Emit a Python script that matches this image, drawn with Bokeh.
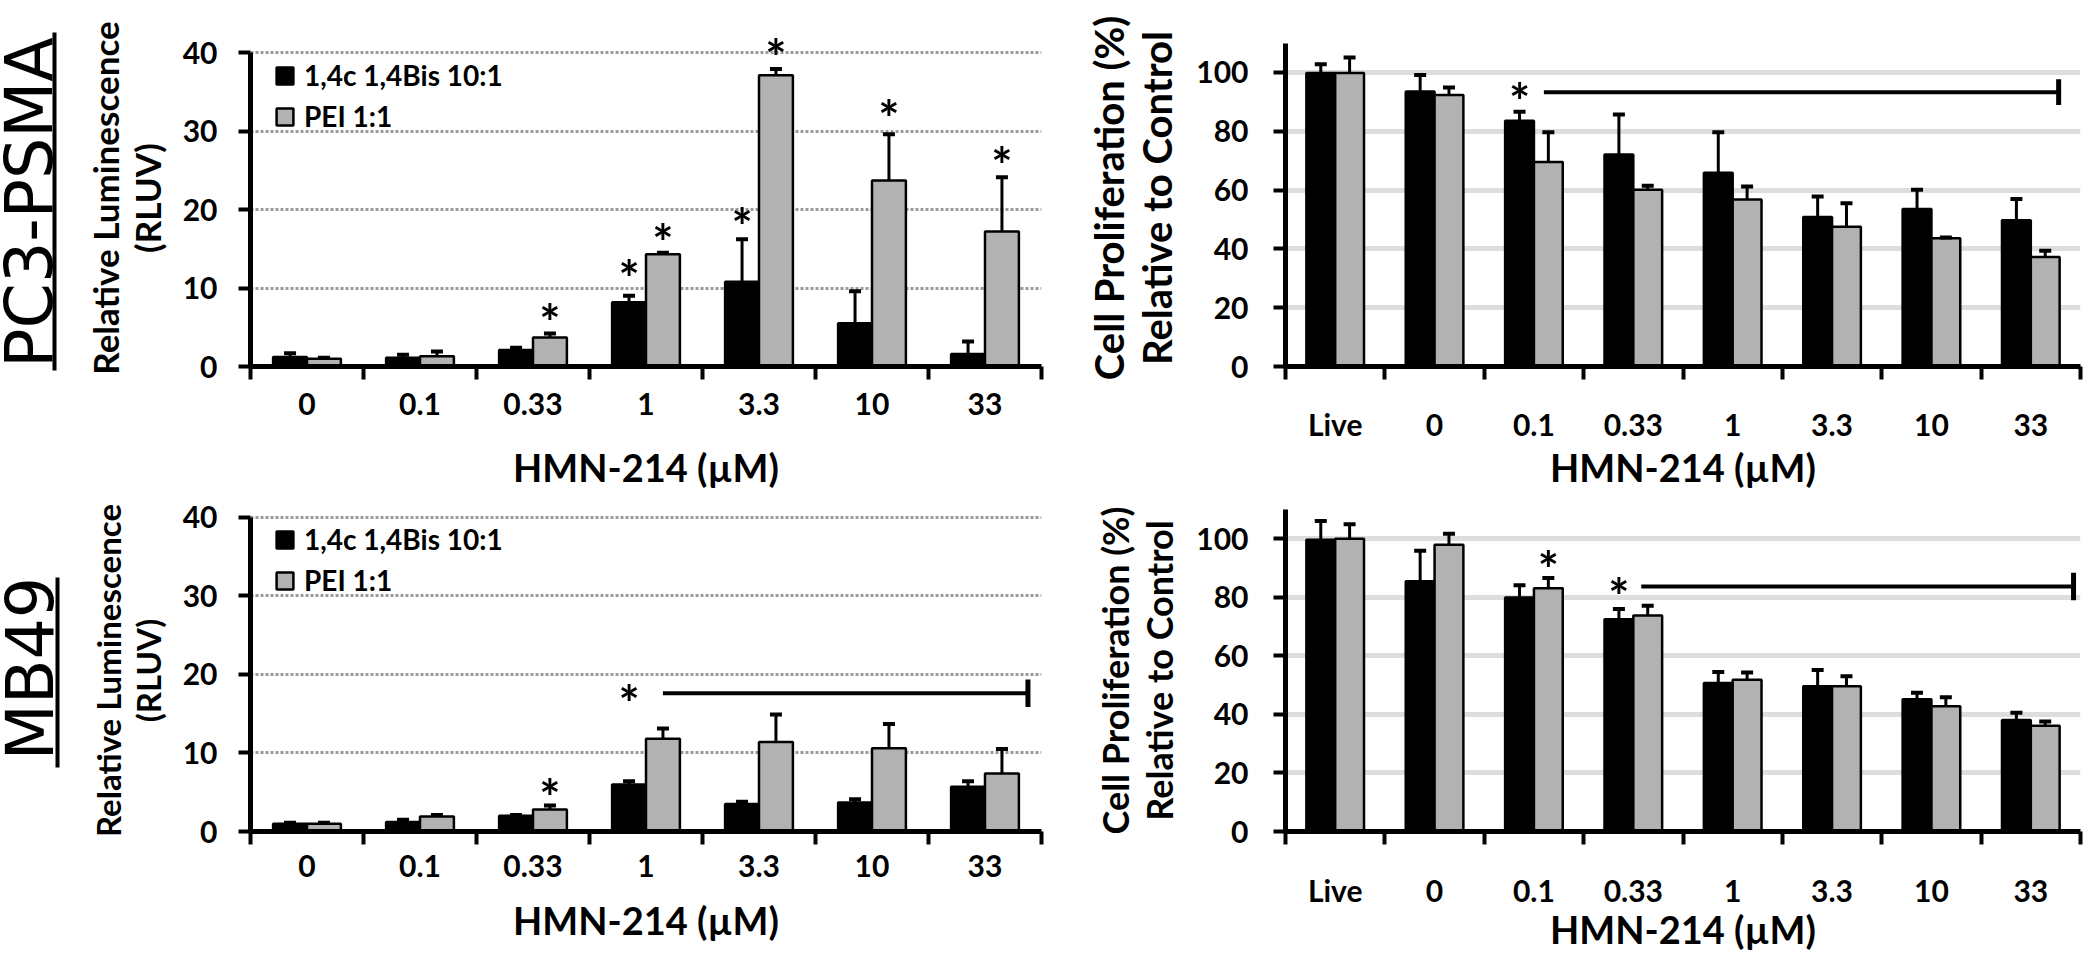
import math
from bokeh.plotting import figure
from bokeh.models import (Range1d, FixedTicker, ColumnDataSource, Whisker, TeeHead,
                          Legend, LegendItem, LabelSet, Label)
from bokeh.layouts import row, column
from bokeh.embed import file_html
from bokeh.resources import INLINE
from bokeh.core.properties import value

# ---------------- data ----------------
lum_cats = ["0", "0.1", "0.33", "1", "3.3", "10", "33"]
prol_cats = ["Live", "0", "0.1", "0.33", "1", "3.3", "10", "33"]
series_names = ["1,4c 1,4Bis 10:1", "PEI 1:1"]
x_title = "HMN-214 (µM)"
lum_title = "Relative Luminescence\n(RLUV)"
prol_title = "Cell Proliferation (%)\nRelative to Control"
row_titles = ["PC3-PSMA", "MB49"]

# PC3-PSMA luminescence
pc3_lum_black = [1.2, 1.1, 2.1, 8.2, 10.8, 5.5, 1.6]
pc3_lum_black_err = [0.5, 0.4, 0.3, 0.8, 5.4, 4.1, 1.6]
pc3_lum_gray = [1.0, 1.3, 3.7, 14.3, 37.1, 23.7, 17.2]
pc3_lum_gray_err = [0.1, 0.6, 0.5, 0.2, 0.8, 5.9, 6.9]
pc3_lum_star_cat = ["0.33", "1", "1", "3.3", "3.3", "10", "33"]
pc3_lum_star_series = [1, 0, 1, 0, 1, 1, 1]
pc3_lum_star_y = [6.85, 12.4, 17.0, 19.1, 40.6, 32.8, 26.8]

# PC3-PSMA proliferation
pc3_prol_black = [99.8, 93.5, 83.6, 72.1, 65.9, 50.8, 53.6, 49.7]
pc3_prol_black_err = [3.0, 5.6, 3.0, 13.6, 13.8, 7.0, 6.5, 7.3]
pc3_prol_gray = [99.8, 92.3, 69.5, 60.1, 56.8, 47.5, 43.6, 37.2]
pc3_prol_gray_err = [5.3, 2.6, 10.2, 1.4, 4.4, 8.0, 0.3, 2.2]
pc3_prol_star_cat = ["0.1"]
pc3_prol_star_series = [0]
pc3_prol_star_y = [93.3]
pc3_prol_bracket = dict(x0=[2.60], x1=[7.78], y=[93.3], half=[4.4])

# MB49 luminescence
mb_lum_black = [1.0, 1.2, 2.0, 6.0, 3.5, 3.7, 5.7]
mb_lum_black_err = [0.1, 0.3, 0.1, 0.4, 0.3, 0.4, 0.7]
mb_lum_gray = [1.0, 1.9, 2.8, 11.8, 11.4, 10.6, 7.4]
mb_lum_gray_err = [0.1, 0.2, 0.5, 1.3, 3.5, 3.1, 3.1]
mb_lum_star_cat = ["0.33", "1"]
mb_lum_star_series = [1, 0]
mb_lum_star_y = [5.6, 17.5]
mb_lum_bracket = dict(x0=[3.65], x1=[6.88], y=[17.6], half=[1.75])

# MB49 proliferation
mb_prol_black = [99.7, 85.5, 79.9, 72.5, 50.7, 49.6, 45.2, 38.1]
mb_prol_black_err = [6.4, 10.4, 4.2, 3.5, 3.8, 5.6, 2.2, 2.5]
mb_prol_gray = [100.0, 98.0, 83.1, 73.8, 51.8, 49.6, 42.8, 36.1]
mb_prol_gray_err = [5.0, 3.7, 3.5, 3.3, 2.5, 3.4, 3.1, 1.5]
mb_prol_star_cat = ["0.1", "0.33"]
mb_prol_star_series = [1, 0]
mb_prol_star_y = [92.6, 83.6]
mb_prol_bracket = dict(x0=[3.58], x1=[7.93], y=[83.7], half=[4.7])

FONT = "Lato"
BAR_COLORS = ["black", "#b2b2b2"]


def make_panel(cats, blk, blk_err, gry, gry_err, star_cat, star_series, star_y,
               bracket, yrange, ybound, yticks, gridticks, grid_dotted, ylabel, ylabel_size,
               width, height, mbl, mbr, mbt, mbb, bar_w, ytick_standoff,
               ylabel_standoff, xtick_standoff, xlabel_standoff, legend_vy=None):
    n = len(cats)
    p = figure(width=width, height=height, output_backend="svg", toolbar_location=None,
               x_range=Range1d(0, n), y_range=Range1d(*yrange),
               min_border_left=mbl, min_border_right=mbr, min_border_top=mbt,
               min_border_bottom=mbb)
    p.outline_line_color = None
    p.background_fill_color = "white"
    p.xgrid.visible = False
    p.ygrid.ticker = FixedTicker(ticks=gridticks)
    if grid_dotted:
        p.ygrid.grid_line_color = "#9a9a9a"
        p.ygrid.grid_line_width = 3
        p.ygrid.grid_line_dash = "3 2"
    else:
        p.ygrid.grid_line_color = "#dddddd"
        p.ygrid.grid_line_width = 5

    offs = [-bar_w / 2, bar_w / 2]
    renderers = []
    for k, (vals, errs) in enumerate([(blk, blk_err), (gry, gry_err)]):
        src = ColumnDataSource(dict(
            x=[i + 0.5 + offs[k] for i in range(n)],
            top=vals,
            upper=[v + e for v, e in zip(vals, errs)],
        ))
        r = p.vbar(x="x", top="top", bottom=0, width=bar_w, source=src,
                   fill_color=BAR_COLORS[k], line_color="black", line_width=2.5)
        renderers.append(r)
        w = Whisker(base="x", lower="top", upper="upper", source=src, dimension="height",
                    line_color="black", line_width=3, lower_head=None,
                    upper_head=TeeHead(size=12, line_width=4, line_color="black"),
                    level="overlay")
        p.add_layout(w)

    # significance asterisks
    ssrc = ColumnDataSource(dict(
        x=[cats.index(c) + 0.5 + offs[s] for c, s in zip(star_cat, star_series)],
        y=star_y,
        t=["*"] * len(star_y),
    ))
    stars = LabelSet(x="x", y="y", text="t", source=ssrc, text_font=value(FONT),
                     text_font_style="bold", text_font_size="50px", text_align="center",
                     text_baseline="middle", y_offset=-9, text_color="black")
    p.add_layout(stars)

    if bracket is not None:
        bsrc = ColumnDataSource(dict(
            x0=bracket["x0"], x1=bracket["x1"], y=bracket["y"],
            ylo=[y - h for y, h in zip(bracket["y"], bracket["half"])],
            yhi=[y + h for y, h in zip(bracket["y"], bracket["half"])],
        ))
        p.segment(x0="x0", y0="y", x1="x1", y1="y", source=bsrc, line_color="black",
                  line_width=4)
        p.segment(x0="x1", y0="ylo", x1="x1", y1="yhi", source=bsrc, line_color="black",
                  line_width=5)

    # x axis: labels at category centres, ticks at category boundaries
    xa = p.xaxis[0]
    xa.ticker = FixedTicker(ticks=[i + 0.5 for i in range(n)],
                            minor_ticks=list(range(n + 1)))
    xa.major_label_overrides = {i + 0.5: c for i, c in enumerate(cats)}
    xa.major_tick_out = 0
    xa.major_tick_in = 0
    xa.minor_tick_out = 13
    xa.minor_tick_in = 0
    xa.minor_tick_line_width = 4
    xa.minor_tick_line_color = "black"
    xa.axis_line_width = 5
    xa.axis_line_color = "black"
    xa.major_label_text_font = FONT
    xa.major_label_text_font_style = "bold"
    xa.major_label_text_font_size = "30px"
    xa.major_label_text_line_height = 1.0
    xa.major_label_text_color = "black"
    xa.major_label_standoff = xtick_standoff
    xa.axis_label = x_title
    xa.axis_label_text_font = FONT
    xa.axis_label_text_font_style = "bold"
    xa.axis_label_text_font_size = "38px"
    xa.axis_label_text_line_height = 1.0
    xa.axis_label_text_color = "black"
    xa.axis_label_standoff = xlabel_standoff

    ya = p.yaxis[0]
    ya.ticker = FixedTicker(ticks=yticks)
    ya.bounds = (0, ybound)
    ya.major_tick_out = 12
    ya.major_tick_in = 0
    ya.major_tick_line_width = 4
    ya.major_tick_line_color = "black"
    ya.minor_tick_line_color = None
    ya.axis_line_width = 5
    ya.axis_line_color = "black"
    ya.major_label_text_font = FONT
    ya.major_label_text_font_style = "bold"
    ya.major_label_text_font_size = "30px"
    ya.major_label_text_color = "black"
    ya.major_label_standoff = ytick_standoff
    ya.axis_label = ylabel
    ya.axis_label_text_font = FONT
    ya.axis_label_text_font_style = "bold"
    ya.axis_label_text_font_size = ylabel_size
    ya.axis_label_text_color = "black"
    ya.axis_label_text_line_height = 1.0
    ya.axis_label_standoff = ylabel_standoff

    if legend_vy is not None:
        leg = Legend(items=[LegendItem(label=series_names[0], renderers=[renderers[0]]),
                            LegendItem(label=series_names[1], renderers=[renderers[1]])],
                     location=(24, legend_vy))
        leg.label_text_font = FONT
        leg.label_text_font_style = "bold"
        leg.label_text_font_size = "28px"
        leg.label_text_color = "black"
        leg.glyph_width = 21
        leg.glyph_height = 21
        leg.label_standoff = 9
        leg.spacing = 7
        leg.padding = 0
        leg.margin = 0
        leg.border_line_alpha = 0
        leg.background_fill_alpha = 0
        p.add_layout(leg)
    return p


def make_row_title(text, height, tx, ty, ux, uy0, uy1):
    f = figure(width=80, height=height, output_backend="svg", toolbar_location=None,
               x_range=Range1d(0, 80), y_range=Range1d(0, height), min_border=0,
               x_axis_type=None, y_axis_type=None)
    f.outline_line_color = None
    f.xgrid.visible = False
    f.ygrid.visible = False
    lab = Label(x=tx, y=ty, text=text, angle=math.pi / 2, text_font="DejaVu Sans",
                text_font_size="65px", text_align="center", text_baseline="middle",
                text_color="black")
    f.add_layout(lab)
    f.segment(x0=[ux], y0=[uy0], x1=[ux], y1=[uy1], line_color="black", line_width=4)
    return f


H1, H2 = 503, 452

l1 = make_row_title(row_titles[0], H1, 29, 301, 54, 133, 471)
l2 = make_row_title(row_titles[1], H2, 30, 287, 57, 188, 378)

# row 1: both panels share frame top and bottom borders
p1 = make_panel(lum_cats, pc3_lum_black, pc3_lum_black_err, pc3_lum_gray, pc3_lum_gray_err,
                pc3_lum_star_cat, pc3_lum_star_series, pc3_lum_star_y, None,
                (0, 42.93), 40, [0, 10, 20, 30, 40], [10, 20, 30, 40], True,
                lum_title, "35px", 1002, H1, 170, 41, 29, 137, 0.3, 21, 12, 13, 26,
                legend_vy=233)
p2 = make_panel(prol_cats, pc3_prol_black, pc3_prol_black_err, pc3_prol_gray, pc3_prol_gray_err,
                pc3_prol_star_cat, pc3_prol_star_series, pc3_prol_star_y, pc3_prol_bracket,
                (0, 114.6), 110, [0, 20, 40, 60, 80, 100], [20, 40, 60, 80, 100], False,
                prol_title, "40px", 1002, H1, 193, 4, 29, 137, 0.29, 25, 12, 26, -1)

# row 2: both panels share frame top and bottom borders
p3 = make_panel(lum_cats, mb_lum_black, mb_lum_black_err, mb_lum_gray, mb_lum_gray_err,
                mb_lum_star_cat, mb_lum_star_series, mb_lum_star_y, mb_lum_bracket,
                (0, 41.0), 40, [0, 10, 20, 30, 40], [10, 20, 30, 40], True,
                lum_title, "33px", 1002, H2, 170, 41, 6, 124, 0.3, 21, 12, 10, 17,
                legend_vy=234)
p4 = make_panel(prol_cats, mb_prol_black, mb_prol_black_err, mb_prol_gray, mb_prol_gray_err,
                mb_prol_star_cat, mb_prol_star_series, mb_prol_star_y, mb_prol_bracket,
                (0, 110), 110, [0, 20, 40, 60, 80, 100], [20, 40, 60, 80, 100], False,
                prol_title, "36px", 1002, H2, 193, 4, 6, 124, 0.29, 25, 12, 27, -5)

layout = row(column(l1, l2), column(p1, p3), column(p2, p4))
open("out.html", "w").write(file_html(layout, INLINE))
